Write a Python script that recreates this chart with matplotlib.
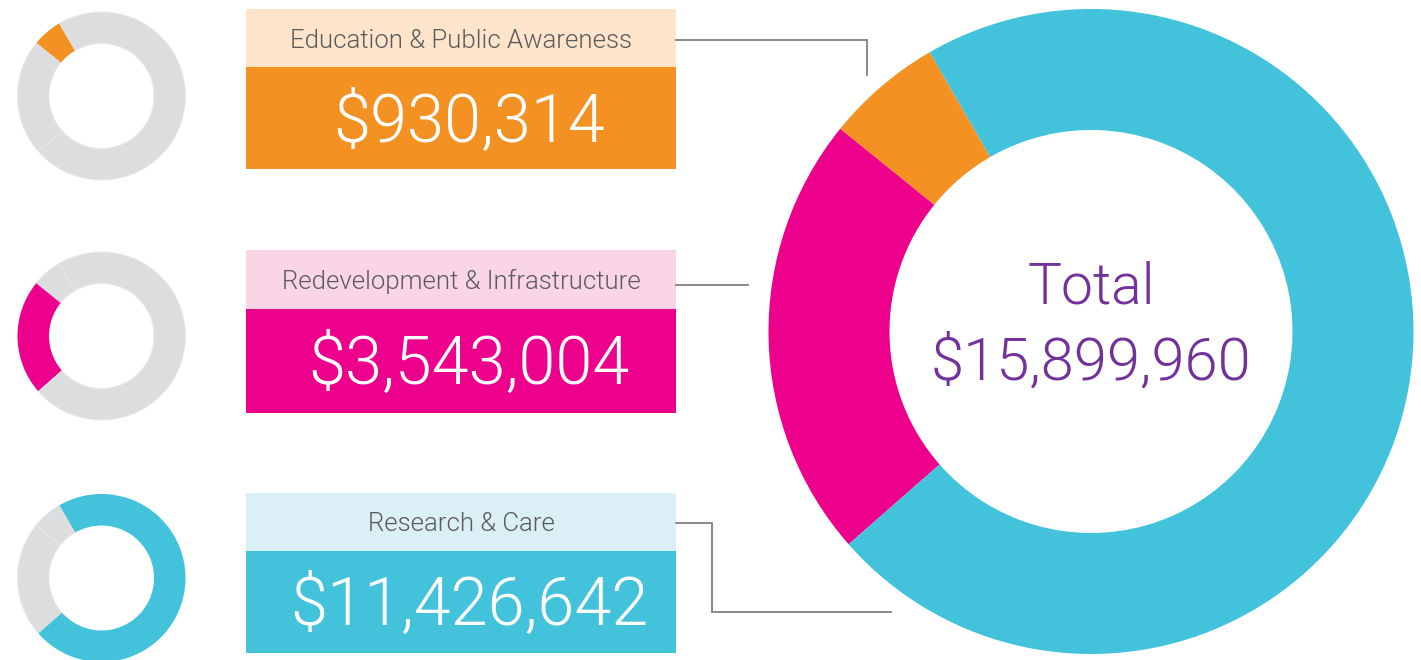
import matplotlib
matplotlib.use("Agg")
import matplotlib.pyplot as plt
from matplotlib import font_manager as fm
from matplotlib.patches import Rectangle

# data
categories = ["Education & Public Awareness", "Redevelopment & Infrastructure", "Research & Care"]
amounts = [930314, 3543004, 11426642]
total = sum(amounts)

# colours
main_colors = ["#F39122", "#EC008C", "#42C3DB"]
light_colors = ["#FDE4CA", "#F9D5E5", "#DBEFF6"]
gray = "#DCDDDE"
purple = "#72329A"


def light_font(families, weights=(300, 200, 400)):
    for w in weights:
        for fam in families:
            for f in fm.fontManager.ttflist:
                if f.name == fam and f.weight == w and f.style == "normal":
                    return fm.FontProperties(fname=f.fname)
    return fm.FontProperties(family="DejaVu Sans")


thin = light_font(["Roboto", "Lato", "Open Sans", "Inter", "Noto Sans"])

W, H = 1421, 660
fig = plt.figure(figsize=(W / 100, H / 100), dpi=100)
ax = fig.add_axes([0, 0, 1, 1])


def py(y):
    # picture y (from top) -> axes y
    return H - y


# big donut
ax.pie(amounts, colors=main_colors, startangle=120, counterclock=True,
       radius=322.5, center=(1091, py(331.5)),
       wedgeprops=dict(width=121, linewidth=0))
ax.text(1091, py(304), "Total", ha="center", va="baseline",
        fontproperties=thin, fontsize=41, color=purple)
ax.text(1091, py(380), f"${total:,}", ha="center", va="baseline",
        fontproperties=thin, fontsize=43, color=purple)

# small donuts and boxes
donut_y = [96, 336, 578]
label_top = [9, 250, 493]
value_top = [67, 309, 551]
value_bot = [169, 413, 653]
label_base = [48, 289, 531]
value_base = [142, 384, 625]

for i, cat in enumerate(categories):
    cols = [main_colors[j] if j == i else gray for j in range(len(amounts))]
    wedges, _ = ax.pie(amounts, colors=cols, startangle=120, counterclock=True,
                       radius=84, center=(101.5, py(donut_y[i])),
                       wedgeprops=dict(width=31.5, linewidth=0))
    for j, w in enumerate(wedges):
        if j != i:
            w.set_edgecolor("#E7E8E9")
            w.set_linewidth(0.6)

    ax.add_patch(Rectangle((246, py(value_top[i])), 430, value_top[i] - label_top[i],
                           facecolor=light_colors[i], edgecolor="none"))
    ax.add_patch(Rectangle((246, py(value_bot[i])), 430, value_bot[i] - value_top[i],
                           facecolor=main_colors[i], edgecolor="none"))
    ax.text(461, py(label_base[i]), cat, ha="center", va="baseline",
            fontproperties=thin, fontsize=18.5, color="#5B5B5B")
    ax.text(469, py(value_base[i]), f"${amounts[i]:,}", ha="center", va="baseline",
            fontproperties=thin, fontsize=48, color="white")

# connector lines
line_kw = dict(color="#808080", lw=1.3, solid_joinstyle="miter")
ax.plot([676, 866.5, 866.5], [py(39.5), py(39.5), py(75)], **line_kw)
ax.plot([676, 748], [py(285), py(285)], **line_kw)
ax.plot([676, 712, 712, 890.5], [py(522.5), py(522.5), py(612), py(612)], **line_kw)

ax.set_xlim(0, W)
ax.set_ylim(0, H)
ax.set_aspect("auto")
ax.axis("off")

fig.savefig("out.png", dpi=100, facecolor="white")
